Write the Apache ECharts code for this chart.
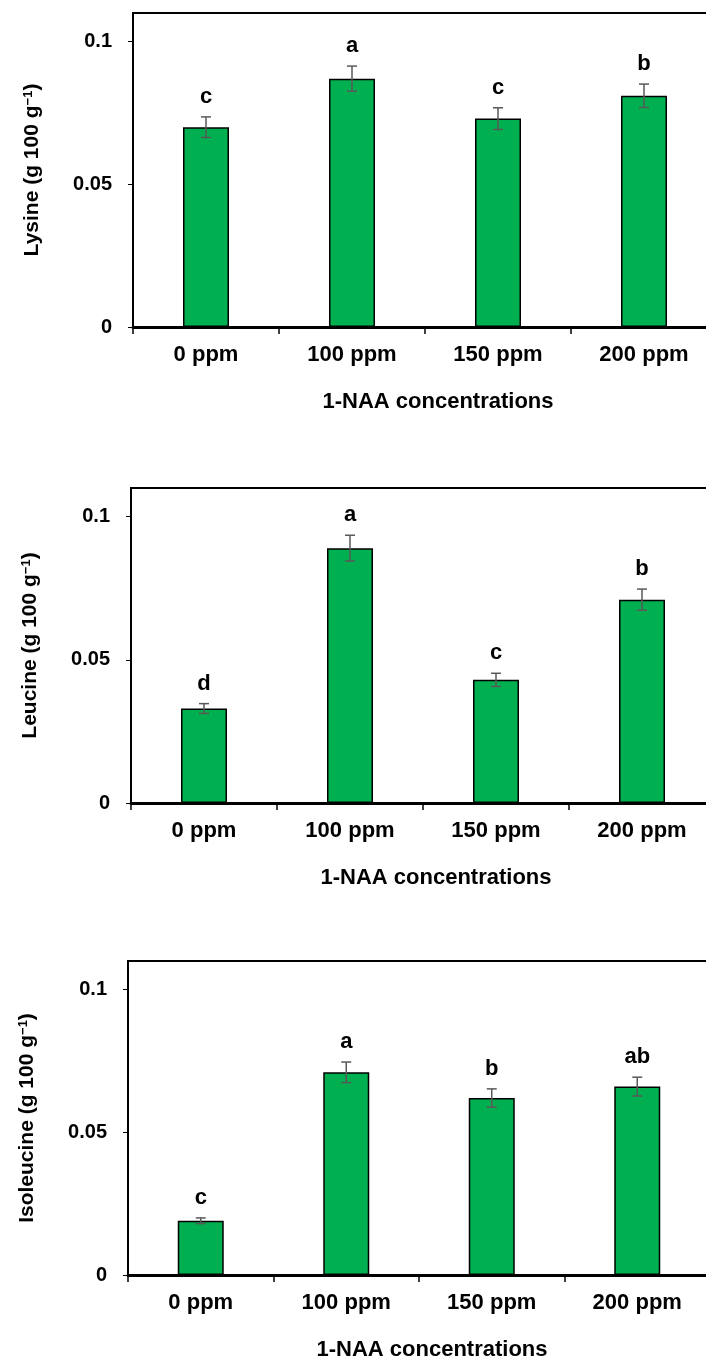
<!DOCTYPE html>
<html>
<head>
<meta charset="utf-8">
<title>Amino acids vs 1-NAA</title>
<script src="https://cdn.jsdelivr.net/npm/echarts@6/dist/echarts.min.js"></script>
<style>
  html, body { margin: 0; padding: 0; background: #fff; }
  #main { width: 706px; height: 1362px; }
</style>
</head>
<body>
<div id="main"></div>
<script>
// data
var categories = ['0 ppm', '100 ppm', '150 ppm', '200 ppm'];

var lysine = [0.070, 0.087, 0.073, 0.081];
var lysineErr = [0.0036, 0.0044, 0.0038, 0.0041];
var lysineLetters = ['c', 'a', 'c', 'b'];

var leucine = [0.033, 0.089, 0.043, 0.071];
var leucineErr = [0.0017, 0.0045, 0.0023, 0.0037];
var leucineLetters = ['d', 'a', 'c', 'b'];

var isoleucine = [0.019, 0.071, 0.062, 0.066];
var isoleucineErr = [0.0010, 0.0036, 0.0032, 0.0033];
var isoleucineLetters = ['c', 'a', 'b', 'ab'];

var yTicks = [0, 0.05, 0.1];
var xTitle = '1-NAA concentrations';

var FONT = '"Liberation Sans", Arial, sans-serif';

// the plot area runs past the right edge of the picture, like the original
var panels = [
  { name: 'Lysine', vals: lysine, err: lysineErr, letters: lysineLetters, grid: { left: 133, top: 13, width: 584, height: 314 } },
  { name: 'Leucine', vals: leucine, err: leucineErr, letters: leucineLetters, grid: { left: 131, top: 488, width: 584, height: 315 } },
  { name: 'Isoleucine', vals: isoleucine, err: isoleucineErr, letters: isoleucineLetters, grid: { left: 128, top: 961, width: 582, height: 314 } }
];

var grids = [], xAxes = [], yAxes = [], series = [];

panels.forEach(function (p, k) {
  grids.push(Object.assign({
    show: true, borderColor: '#000', borderWidth: 2, backgroundColor: 'transparent',
    containLabel: false, outerBoundsMode: 'none'
  }, p.grid));

  xAxes.push({
    type: 'category',
    gridIndex: k,
    data: categories,
    axisLine: { lineStyle: { color: '#000', width: 3 } },
    axisTick: { show: true, length: 7, lineStyle: { color: '#000', width: 1.5 } },
    axisLabel: { color: '#000', fontSize: 22, fontWeight: 'bold', fontFamily: FONT, margin: 17 },
    name: xTitle,
    nameLocation: 'middle',
    nameGap: 64,
    nameTextStyle: { color: '#000', fontSize: 22, fontWeight: 'bold', fontFamily: FONT, padding: [0, 0, 0, 26] }
  });

  yAxes.push({
    type: 'value',
    gridIndex: k,
    min: 0,
    max: 0.11,
    interval: 0.05,
    splitLine: { show: false },
    axisLine: { show: true, lineStyle: { color: '#000', width: 2 } },
    axisTick: { show: true, length: 5, customValues: yTicks, lineStyle: { color: '#000', width: 1 } },
    axisLabel: {
      color: '#000', fontSize: 20, fontWeight: 'bold', fontFamily: FONT, margin: 21,
      customValues: yTicks,
      formatter: function (v) { return v === 0 ? '0' : String(+v.toFixed(2)); }
    },
    name: p.name + ' (g 100 g{sup|\u22121})',
    nameLocation: 'middle',
    nameGap: 90,
    nameTextStyle: {
      color: '#000', fontSize: 21, fontWeight: 'bold', fontFamily: FONT,
      rich: {
        sup: { color: '#000', fontSize: 13, fontWeight: 'bold', fontFamily: FONT, verticalAlign: 'top', padding: [0, 0, 8, 0] }
      }
    }
  });

  series.push({
    type: 'bar',
    xAxisIndex: k,
    yAxisIndex: k,
    data: p.vals,
    barWidth: 46,
    itemStyle: { color: '#00b050', borderColor: '#000', borderWidth: 1.5 },
    silent: true
  });

  // error bars + significance letters
  series.push({
    type: 'custom',
    xAxisIndex: k,
    yAxisIndex: k,
    silent: true,
    z: 5,
    data: p.vals.map(function (v, i) { return [i, v, p.err[i]]; }),
    encode: { x: 0, y: 1 },
    renderItem: function (params, api) {
      var i = api.value(0), m = api.value(1), e = api.value(2);
      var hi = api.coord([i, m + e]);
      var lo = api.coord([i, m - e]);
      var cap = 5;
      var ls = { stroke: '#595959', lineWidth: 1.5 };
      return {
        type: 'group',
        children: [
          { type: 'line', shape: { x1: hi[0], y1: hi[1], x2: lo[0], y2: lo[1] }, style: ls },
          { type: 'line', shape: { x1: hi[0] - cap, y1: hi[1], x2: hi[0] + cap, y2: hi[1] }, style: ls },
          { type: 'line', shape: { x1: lo[0] - cap, y1: lo[1], x2: lo[0] + cap, y2: lo[1] }, style: ls },
          {
            type: 'text',
            style: {
              text: p.letters[params.dataIndex],
              x: hi[0], y: hi[1] - 9,
              align: 'center', verticalAlign: 'bottom',
              fill: '#000',
              font: 'bold 22px ' + FONT
            }
          }
        ]
      };
    }
  });
});

var myChart = echarts.init(document.getElementById('main'), null, { renderer: 'canvas' });
myChart.setOption({
  backgroundColor: '#fff',
  animation: false,
  grid: grids,
  xAxis: xAxes,
  yAxis: yAxes,
  series: series
});
</script>
</body>
</html>
